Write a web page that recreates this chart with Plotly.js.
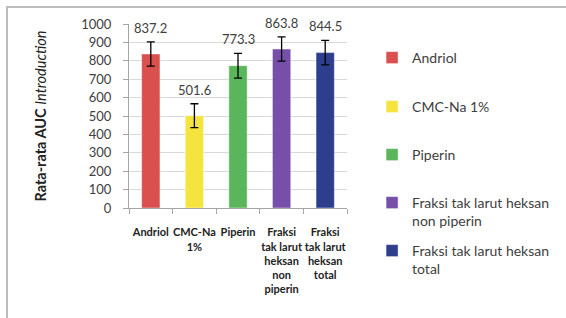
<!DOCTYPE html>
<html>
<head>
<meta charset="utf-8">
<script src="https://cdn.plot.ly/plotly-3.0.1.min.js"></script>
<style>
html,body{margin:0;padding:0;background:#fff;overflow:hidden;}
#wrap{position:relative;width:566px;height:318px;}
#chart{position:absolute;left:0;top:0;width:566px;height:318px;}
#frame{position:absolute;left:6px;top:6px;width:600px;height:400px;border-top:2px solid #bcbcbc;border-left:2px solid #bcbcbc;pointer-events:none;}
</style>
</head>
<body>
<div id="wrap"><div id="chart"></div><div id="frame"></div></div>
<script>
const categories = ["Andriol", "CMC-Na 1%", "Piperin", "Fraksi tak larut heksan non piperin", "Fraksi tak larut heksan total"];
const tickLabels = ["Andriol", "CMC-Na<br>1%", "Piperin", "Fraksi<br>tak larut<br>heksan<br>non<br>piperin", "Fraksi<br>tak larut<br>heksan<br>total"];
const legendLabels = ["Andriol", "CMC-Na 1%", "Piperin", "Fraksi tak larut heksan<br>non piperin", "Fraksi tak larut heksan<br>total"];
const values = [837.2, 501.6, 773.3, 863.8, 844.5];
const errors = [66, 65, 67, 66, 67];
const colors = ["#D9504E", "#F5E43E", "#5BB55B", "#7650A8", "#2D3E8C"];

const legendIds = ["legend", "legend2", "legend3", "legend4", "legend5"];
const legendPix = [60, 109, 157, 205, 253];

const traces = categories.map((c, i) => ({
  type: "bar",
  name: legendLabels[i],
  x: [c],
  y: [values[i]],
  marker: {color: colors[i], line: {color: "rgba(255,255,255,0.45)", width: 1}},
  error_y: {type: "data", array: [errors[i]], visible: true, color: "#000", thickness: 1.3, width: 4},
  legend: legendIds[i],
  hoverinfo: "skip"
}));

const annotations = categories.map((c, i) => ({
  x: c,
  y: values[i] + errors[i],
  xref: "x", yref: "y",
  text: values[i].toFixed(1),
  showarrow: false,
  yanchor: "bottom",
  yshift: 4,
  font: {family: "Lato, 'Open Sans', sans-serif", size: 13, color: "#404040"}
}));

const plotTop = 24, plotBottom = 208;
const layout = {
  width: 566, height: 318,
  margin: {l: 129, r: 200, t: 24, b: 110},
  paper_bgcolor: "rgba(0,0,0,0)",
  plot_bgcolor: "#fff",
  barmode: "overlay",
  bargap: 0.58,
  showlegend: true,
  annotations: annotations,
  font: {family: "Lato, 'Open Sans', sans-serif", color: "#404040"},
  xaxis: {
    type: "category",
    tickvals: categories,
    ticktext: tickLabels,
    tickson: "boundaries",
    ticks: "outside",
    ticklen: 5,
    tickcolor: "#a6a6a6",
    showline: true,
    linecolor: "#a6a6a6",
    linewidth: 1,
    showgrid: false,
    tickangle: 0,
    ticklabelstandoff: 14,
    tickfont: {family: "Lato, sans-serif", size: 11, color: "#222", weight: "bold"},
    fixedrange: true
  },
  yaxis: {
    range: [0, 1000],
    dtick: 100,
    ticks: "outside",
    ticklen: 5,
    tickcolor: "#a6a6a6",
    showline: true,
    linecolor: "#a6a6a6",
    linewidth: 1,
    showgrid: true,
    gridcolor: "#d9d9d9",
    zeroline: false,
    ticklabelstandoff: 9,
    tickfont: {family: "Lato, sans-serif", size: 13, color: "#404040"},
    title: {text: "<b>Rata-rata AUC</b> <i>Introduction</i>", font: {family: "Lato, sans-serif", size: 14.5, color: "#222"}, standoff: 31},
    fixedrange: true
  }
};

legendIds.forEach((id, i) => {
  layout[id] = {
    x: 1.115,
    xanchor: "left",
    y: (plotBottom - (legendPix[i] - 18)) / (plotBottom - plotTop),
    yanchor: "top",
    valign: "top",
    bgcolor: "rgba(0,0,0,0)",
    itemwidth: 30,
    font: {family: "Lato, sans-serif", size: 14, color: "#404040"}
  };
});

Plotly.newPlot("chart", traces, layout, {displayModeBar: false, staticPlot: true});
</script>
</body>
</html>
